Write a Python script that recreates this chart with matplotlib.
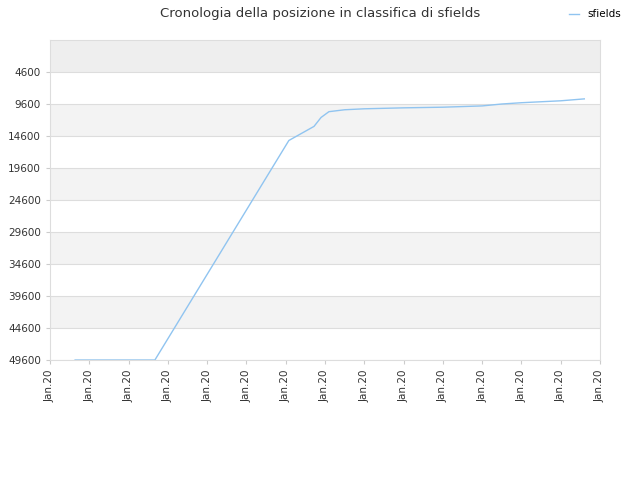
import matplotlib
matplotlib.use("Agg")
import matplotlib.pyplot as plt

title = "Cronologia della posizione in classifica di sfields"
series_name = "sfields"
tick_labels = ["Jan.20"] * 15
yticks = [4600, 9600, 14600, 19600, 24600, 29600, 34600, 39600, 44600, 49600]
xs = [0.64, 2.67, 6.08, 6.4, 6.72, 6.9, 7.1, 7.5, 8.0, 9.0, 10.0, 11.0, 11.5, 12.0, 12.5, 13.0, 13.6]
ys = [49600, 49600, 15300, 14200, 13100, 11700, 10800, 10500, 10350, 10200, 10100, 9900, 9600, 9400, 9250, 9100, 8800]

fig = plt.figure(figsize=(6.4, 4.8), dpi=100)
ax = fig.add_axes([50/640, 120/480, 550/640, 320/480])
ylo, yhi = -400, 49600
edges = [ylo] + yticks
for i in range(len(edges) - 1):
    ax.axhspan(edges[i], edges[i+1], color="#eeeeee" if i == 0 else ("#f3f3f3" if i % 2 == 0 else "white"), zorder=0, lw=0)
for y in yticks:
    ax.axhline(y, color="#dddddd", lw=0.8, zorder=1)
ax.plot(xs, ys, color="#90c4f0", lw=1, zorder=2, label=series_name)
ax.set_ylim(yhi, ylo)
ax.set_xlim(0, 14)
ax.set_yticks(yticks)
ax.set_yticklabels([str(v) for v in yticks], fontsize=7.5, color="#333333")
ax.set_xticks(range(15))
ax.set_xticklabels(tick_labels, rotation=90, fontsize=7.5, color="#333333")
for s in ax.spines.values():
    s.set_color("#dddddd")
ax.tick_params(length=3, color="#cccccc")
fig.suptitle(title, x=0.5, y=0.985, fontsize=9.5, color="#333333")
fig.legend(loc="upper right", bbox_to_anchor=(0.985, 1.0), frameon=False, fontsize=7.5, handlelength=1)
fig.savefig("out.png")
